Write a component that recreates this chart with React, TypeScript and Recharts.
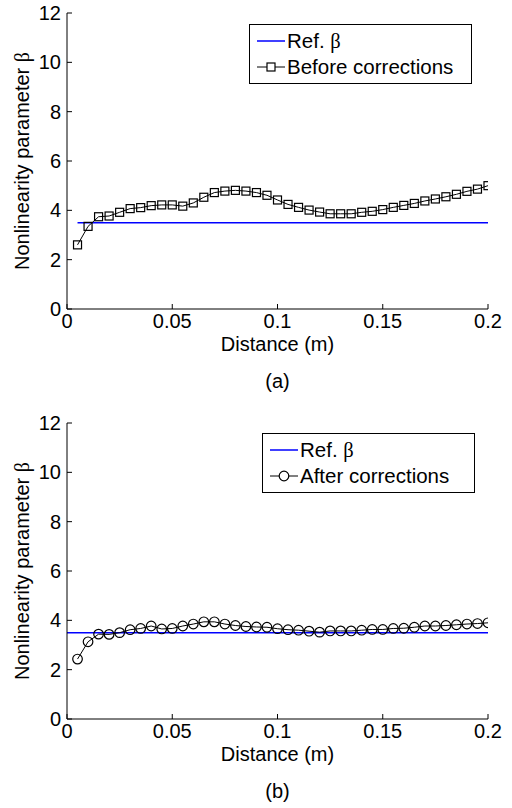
import { LineChart, Line, XAxis, YAxis, Legend, Label } from 'recharts';

// distance along the sample (m)
const distance = [
  0.005, 0.01, 0.015, 0.02, 0.025, 0.03, 0.035, 0.04, 0.045, 0.05,
  0.055, 0.06, 0.065, 0.07, 0.075, 0.08, 0.085, 0.09, 0.095, 0.1,
  0.105, 0.11, 0.115, 0.12, 0.125, 0.13, 0.135, 0.14, 0.145, 0.15,
  0.155, 0.16, 0.165, 0.17, 0.175, 0.18, 0.185, 0.19, 0.195, 0.2,
];

// panel (a)
const beforeCorrections = [
  2.6, 3.35, 3.74, 3.77, 3.92, 4.07, 4.11, 4.19, 4.22, 4.22,
  4.17, 4.3, 4.53, 4.72, 4.78, 4.81, 4.78, 4.72, 4.61, 4.42,
  4.24, 4.12, 4.01, 3.93, 3.86, 3.86, 3.86, 3.92, 3.96, 4.03,
  4.12, 4.2, 4.28, 4.38, 4.46, 4.55, 4.65, 4.77, 4.86, 5.0,
];

// panel (b)
const afterCorrections = [
  2.43, 3.13, 3.44, 3.43, 3.5, 3.62, 3.67, 3.77, 3.65, 3.67,
  3.77, 3.85, 3.94, 3.94, 3.85, 3.79, 3.75, 3.73, 3.72, 3.66,
  3.62, 3.6, 3.56, 3.52, 3.57, 3.57, 3.57, 3.6, 3.63, 3.63,
  3.67, 3.68, 3.72, 3.77, 3.77, 3.79, 3.82, 3.85, 3.87, 3.9,
];

const refBeta = 3.5;
const refRangeA = [0.005, 0.2];
const refRangeB = [0, 0.2];

const xTicks = [0, 0.05, 0.1, 0.15, 0.2];
const yTicks = [0, 2, 4, 6, 8, 10, 12];

const FONT = '"Liberation Sans", Arial, sans-serif';
const FS = 20;
const tickStyle = { fontSize: FS, fill: '#000', fontFamily: FONT };
const labelStyle = { fontSize: FS, fontFamily: FONT, fill: '#000' };

const SquareDot = (props: any) => {
  const { cx, cy, index } = props;
  return <rect key={`sq-${index}`} x={cx - 4} y={cy - 4} width={8} height={8} fill="none" stroke="#000" strokeWidth={1.2} />;
};

const CircleDot = (props: any) => {
  const { cx, cy, index } = props;
  return <circle key={`ci-${index}`} cx={cx} cy={cy} r={4.8} fill="none" stroke="#000" strokeWidth={1.2} />;
};

const YTitle = (props: any) => {
  const { viewBox } = props;
  const cx = 22;
  const cy = viewBox.y + viewBox.height / 2;
  return (
    <text x={cx} y={cy} transform={`rotate(-90, ${cx}, ${cy})`} textAnchor="middle" dominantBaseline="central"
      fontSize={FS} fontFamily={FONT} fill="#000">
      Nonlinearity parameter <tspan fontFamily='"Liberation Serif", serif'>β</tspan>
    </text>
  );
};

const LegendBox = ({ label, marker, width }: { label: string; marker: 'square' | 'circle'; width: number }) => (
  <div style={{ width, boxSizing: 'border-box', border: '1px solid #000', background: '#fff', fontFamily: FONT, fontSize: 20.5, padding: '3px 0 3px 7px', lineHeight: '26px' }}>
    <div style={{ display: 'flex', alignItems: 'center' }}>
      <svg width={28} height={14}><line x1={0} y1={7} x2={28} y2={7} stroke="#0000ff" strokeWidth={1.5} /></svg>
      <span style={{ marginLeft: 2 }}>Ref. <span style={{ fontFamily: '"Liberation Serif", serif' }}>β</span></span>
    </div>
    <div style={{ display: 'flex', alignItems: 'center' }}>
      <svg width={28} height={14}>
        <line x1={0} y1={7} x2={28} y2={7} stroke="#000" strokeWidth={1} />
        {marker === 'square'
          ? <rect x={10} y={3} width={8} height={8} fill="#fff" stroke="#000" strokeWidth={1.2} />
          : <circle cx={14} cy={7} r={4.8} fill="#fff" stroke="#000" strokeWidth={1.2} />}
      </svg>
      <span style={{ marginLeft: 2 }}>{label}</span>
    </div>
  </div>
);

type PanelProps = {
  top: number;
  marginTop: number;
  values: number[];
  refRange: number[];
  marker: 'square' | 'circle';
  label: string;
  tag: string;
  legendPos: { left: number; top: number; width: number };
};

const Panel = ({ top, marginTop, values, refRange, marker, label, tag, legendPos }: PanelProps) => {
  const data = distance.map((x, i) => ({ x, beta: values[i] }));
  const refData = refRange.map((x) => ({ x, ref: refBeta }));
  return (
    <div style={{ position: 'absolute', left: 0, top, width: 512, height: 404 }}>
      <LineChart width={512} height={404} data={data} margin={{ top: marginTop, right: 24, bottom: 0, left: 0 }}>
        <XAxis xAxisId="b" type="number" dataKey="x" domain={[0, 0.2]} ticks={xTicks} allowDataOverflow
          tickFormatter={(v: number) => String(v)} tick={tickStyle} tickSize={-5} tickMargin={10}
          stroke="#000" height={404 - marginTop - 296} interval={0}>
          <Label value="Distance (m)" position="insideTop" offset={28} style={labelStyle} />
          <Label value={tag} position="insideTop" offset={65} style={labelStyle} />
        </XAxis>
        <XAxis xAxisId="t" orientation="top" type="number" dataKey="x" domain={[0, 0.2]} ticks={xTicks}
          allowDataOverflow tick={false} tickSize={-5} stroke="#000" height={0} />
        <YAxis yAxisId="l" domain={[0, 12]} ticks={yTicks} allowDataOverflow tick={tickStyle}
          tickSize={-5} tickMargin={11} stroke="#000" width={67} interval={0} label={<YTitle />} />
        <YAxis yAxisId="r" orientation="right" domain={[0, 12]} ticks={yTicks} allowDataOverflow
          tick={false} tickSize={-5} stroke="#000" width={0} />
        <Line xAxisId="b" yAxisId="l" data={refData} dataKey="ref" stroke="#0000ff" strokeWidth={1.5}
          dot={false} isAnimationActive={false} legendType="none" />
        <Line xAxisId="b" yAxisId="l" dataKey="beta" stroke="#000" strokeWidth={1}
          dot={marker === 'square' ? SquareDot : CircleDot} isAnimationActive={false} />
        <Legend verticalAlign="middle" align="center" layout="horizontal"
          content={() => <LegendBox label={label} marker={marker} width={legendPos.width} />}
          wrapperStyle={{ position: 'absolute', left: legendPos.left, top: legendPos.top, width: legendPos.width, bottom: 'auto', right: 'auto' }} />
      </LineChart>
    </div>
  );
};

export default function App() {
  return (
    <div style={{ position: 'absolute', left: 0, top: 0, width: 512, height: 808, background: '#fff' }}>
      <Panel top={0} marginTop={13} values={beforeCorrections} refRange={refRangeA} marker="square"
        label="Before corrections" tag="(a)" legendPos={{ left: 249, top: 24, width: 223 }} />
      <Panel top={404} marginTop={19} values={afterCorrections} refRange={refRangeB} marker="circle"
        label="After corrections" tag="(b)" legendPos={{ left: 262, top: 29, width: 213 }} />
    </div>
  );
}
